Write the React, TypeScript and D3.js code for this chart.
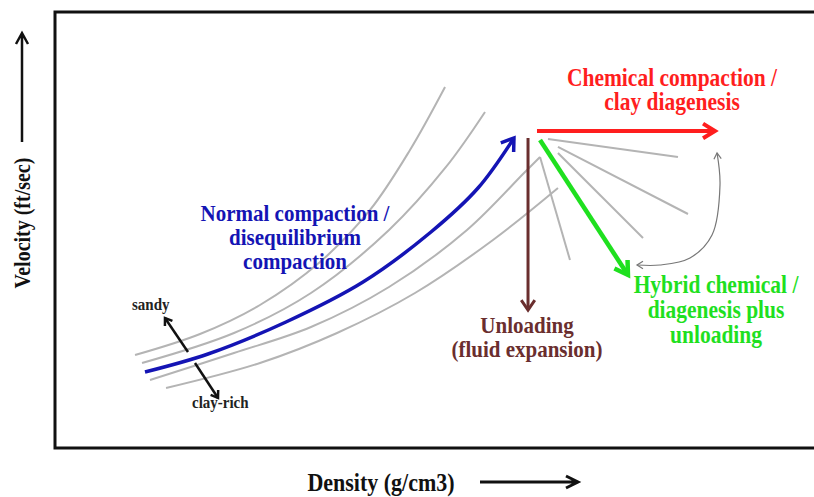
import React from "react";
import * as d3 from "d3";

// Relative units: density 0..100 (x), velocity 0..100 (y)
type P = [number, number];

const grayCurve1: P[] = [[10.53, 21.33], [19.08, 26.15], [26.97, 32.8], [34.87, 42.66], [41.45, 54.59], [46.71, 68.35], [51.32, 82.8]];
const grayCurve2: P[] = [[11.45, 19.5], [23.55, 26.38], [33.68, 35.55], [43.95, 50.0], [51.45, 64.45], [56.58, 77.06]];
const grayCurve3: P[] = [[12.5, 15.6], [23.55, 21.79], [33.68, 27.75], [43.95, 36.93], [54.21, 50.0], [61.71, 63.07], [63.82, 66.74]];
const grayCurve4: P[] = [[14.61, 13.76], [26.97, 19.5], [37.11, 26.38], [47.37, 35.55], [57.63, 47.71], [66.18, 59.63]];
const normalCompaction: P[] = [[11.84, 17.43], [20.13, 21.56], [30.39, 28.9], [40.53, 38.07], [49.47, 49.54], [55.66, 59.63], [60.39, 71.1]];

const fanLines: P[][] = [
  [[64.87, 70.87], [81.97, 66.74]],
  [[66.18, 69.04], [83.29, 53.67]],
  [[66.18, 67.66], [77.37, 48.17]],
  [[63.82, 66.74], [67.76, 43.12]],
];

const unloading: P[] = [[62.24, 71.1], [62.24, 31.65]];
const chemical: P[] = [[63.42, 72.71], [86.84, 72.71]];
const hybrid: P[] = [[63.82, 70.64], [75.39, 39.68]];
const linkArc: P[] = [[87.11, 67.66], [87.5, 60.32], [86.45, 48.85], [83.55, 43.58], [79.61, 41.97], [76.58, 41.97]];
const sandyArrow: P[] = [[17.5, 22.02], [14.47, 29.82]];
const clayArrow: P[] = [[18.42, 19.5], [21.45, 11.47]];

const redLines = ["Chemical compaction /", "clay diagenesis"];
const blueLines = ["Normal compaction /", "disequilibrium", "compaction"];
const brownLines = ["Unloading", "(fluid expansion)"];
const greenLines = ["Hybrid chemical /", "diagenesis plus", "unloading"];
const xLabel = "Density (g/cm3)";
const yLabel = "Velocity (ft/sec)";

const W = 814, H = 497;
const FL = 55, FT = 12, FR = 816, FB = 448;

const x = d3.scaleLinear().domain([0, 100]).range([FL, FL + 760]);
const y = d3.scaleLinear().domain([0, 100]).range([FB, FT]);

const curveGen = d3.line<P>().x(d => x(d[0])).y(d => y(d[1])).curve(d3.curveCatmullRom.alpha(0.5));
const straight = d3.line<P>().x(d => x(d[0])).y(d => y(d[1]));

function head(pts: P[], len: number, ang = 0.5): string {
  const a = pts[pts.length - 2], b = pts[pts.length - 1];
  const bx = x(b[0]), by = y(b[1]);
  const dir = Math.atan2(by - y(a[1]), bx - x(a[0]));
  const p1: [number, number] = [bx - len * Math.cos(dir - ang), by - len * Math.sin(dir - ang)];
  const p2: [number, number] = [bx - len * Math.cos(dir + ang), by - len * Math.sin(dir + ang)];
  return `M${p1[0]},${p1[1]}L${bx},${by}L${p2[0]},${p2[1]}`;
}
function tail(pts: P[], len: number, ang = 0.5): string {
  return head([...pts].reverse(), len, ang);
}

const FONT = "'Liberation Serif', 'Times New Roman', serif";
const SX = 0.88;

function CText({ x: tx, y: ty, size, fill, anchor = "middle", rotate = 0, children }: { x: number; y: number; size: number; fill: string; anchor?: string; rotate?: number; children: React.ReactNode }) {
  return (
    <text
      transform={`translate(${tx},${ty}) rotate(${rotate}) scale(${SX},1)`}
      textAnchor={anchor}
      fontFamily={FONT}
      fontWeight="bold"
      fontSize={size / SX}
      fill={fill}
    >
      {children}
    </text>
  );
}

function Lines({ lines, cx, y0, dy, fill, size }: { lines: string[]; cx: number; y0: number; dy: number; fill: string; size: number }) {
  return (
    <g>
      {lines.map((t, i) => (
        <CText key={i} x={cx} y={y0 + i * dy} size={size} fill={fill}>{t}</CText>
      ))}
    </g>
  );
}

export default function App() {
  const grays = [grayCurve1, grayCurve2, grayCurve3, grayCurve4];
  const blue = "#1414b4";
  const red = "#ff1e1e";
  const green = "#1fe01f";
  const brown = "#6a2e2e";
  return (
    <svg width={W} height={H} style={{ position: "absolute", left: 0, top: 0, background: "#fff" }}>
      <rect x={0} y={0} width={W} height={H} fill="#fff" />
      <path d={`M${FR},${FT}H${FL}V${FB}H${FR}`} fill="none" stroke="#111" strokeWidth={3} />

      {grays.map((c, i) => (
        <path key={i} d={curveGen(c) || ""} fill="none" stroke="#b4b4b4" strokeWidth={2} />
      ))}
      {fanLines.map((c, i) => (
        <path key={i} d={straight(c) || ""} fill="none" stroke="#b4b4b4" strokeWidth={2} />
      ))}

      <path d={curveGen(normalCompaction) || ""} fill="none" stroke={blue} strokeWidth={3.5} />
      <path d={head(normalCompaction, 14, 0.6)} fill="none" stroke={blue} strokeWidth={3.5} />

      <path d={straight(unloading) || ""} fill="none" stroke={brown} strokeWidth={3} />
      <path d={head(unloading, 12, 0.6)} fill="none" stroke={brown} strokeWidth={3} />

      <path d={straight(chemical) || ""} fill="none" stroke={red} strokeWidth={4} />
      <path d={head(chemical, 14, 0.55)} fill="none" stroke={red} strokeWidth={4} />

      <path d={straight(hybrid) || ""} fill="none" stroke={green} strokeWidth={4.5} />
      <path d={head(hybrid, 15, 0.55)} fill="none" stroke={green} strokeWidth={4.5} />

      <path d={curveGen(linkArc) || ""} fill="none" stroke="#777" strokeWidth={1.2} />
      <path d={tail(linkArc, 7, 0.55)} fill="none" stroke="#777" strokeWidth={1.2} />
      <path d={head(linkArc, 7, 0.55)} fill="none" stroke="#777" strokeWidth={1.2} />

      <path d={straight(sandyArrow) || ""} fill="none" stroke="#111" strokeWidth={2.5} />
      <path d={head(sandyArrow, 8, 0.6)} fill="none" stroke="#111" strokeWidth={2.5} />
      <path d={straight(clayArrow) || ""} fill="none" stroke="#111" strokeWidth={2.5} />
      <path d={head(clayArrow, 8, 0.6)} fill="none" stroke="#111" strokeWidth={2.5} />

      <Lines lines={redLines} cx={672} y0={86} dy={24} fill={red} size={21.5} />
      <Lines lines={blueLines} cx={295} y0={221} dy={24} fill={blue} size={21} />
      <Lines lines={brownLines} cx={527} y0={333} dy={24} fill={brown} size={21} />
      <Lines lines={greenLines} cx={716} y0={293} dy={25} fill={green} size={21.5} />

      <CText x={132} y={310} size={15} fill="#222" anchor="start">sandy</CText>
      <CText x={192} y={408} size={15} fill="#222" anchor="start">clay-rich</CText>

      <CText x={30} y={223} size={20} fill="#111" rotate={-90}>{yLabel}</CText>
      <path d="M22,142V34M16,44L22,33L28,44" fill="none" stroke="#111" strokeWidth={2.5} />

      <CText x={381} y={491} size={22} fill="#111">{xLabel}</CText>
      <path d="M480,482H577M566,476L578,482L566,488" fill="none" stroke="#111" strokeWidth={3} />
    </svg>
  );
}
